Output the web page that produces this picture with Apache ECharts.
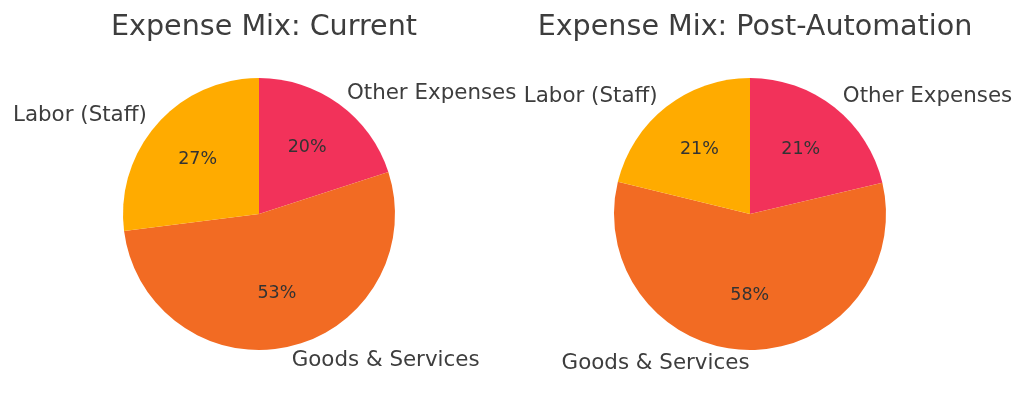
<!DOCTYPE html>
<html>
<head>
<meta charset="utf-8">
<script src="https://cdn.jsdelivr.net/npm/echarts@6/dist/echarts.min.js"></script>
<style>
  html, body { margin: 0; padding: 0; background: #fff; }
  #chart { width: 1024px; height: 397px; }
</style>
</head>
<body>
<div id="chart"></div>
<script>
  // categories in drawing order (clockwise from 12 o'clock)
  const categories = ['Other Expenses', 'Goods & Services', 'Labor (Staff)']
  const currentShares = [20, 53, 27]
  const postShares = [21.3, 57.5, 21.2]
  const titles = ['Expense Mix: Current', 'Expense Mix: Post-Automation']
  const colors = ['#F2325A', '#F26B23', '#FFAB00']

  const font = 'DejaVu Sans'
  const textColor = '#3d3d3d'
  const R = 136

  function toData(values) {
    return categories.map((name, i) => ({ name: name, value: values[i] }))
  }

  function pieSeries(values, cx) {
    return [
      {
        type: 'pie',
        center: [cx, 214],
        radius: [0, R],
        startAngle: 90,
        clockwise: true,
        avoidLabelOverlap: false,
        silent: true,
        color: colors,
        itemStyle: { borderWidth: 0 },
        label: {
          show: true,
          position: 'outside',
          fontFamily: font,
          fontSize: 21.4,
          color: textColor,
          distanceToLabelLine: 0
        },
        labelLine: { show: false, length: R * 0.1, length2: 0 },
        data: toData(values)
      },
      {
        // transparent ring only used to place the percentages inside
        type: 'pie',
        center: [cx, 214],
        radius: [0, R * 1.16],
        startAngle: 90,
        clockwise: true,
        silent: true,
        itemStyle: { color: 'transparent' },
        label: {
          show: true,
          position: 'inside',
          fontFamily: font,
          fontSize: 17.5,
          color: '#333',
          formatter: p => Math.round(p.percent) + '%'
        },
        labelLine: { show: false },
        data: toData(values)
      }
    ]
  }

  const chart = echarts.init(document.getElementById('chart'), null, { renderer: 'canvas' })
  chart.setOption({
    animation: false,
    backgroundColor: '#fff',
    title: [
      { text: titles[0], left: 259, top: 8, textAlign: 'center',
        textStyle: { fontFamily: font, fontSize: 28.6, fontWeight: 'normal', color: textColor } },
      { text: titles[1], left: 750, top: 8, textAlign: 'center',
        textStyle: { fontFamily: font, fontSize: 28.6, fontWeight: 'normal', color: textColor } }
    ],
    series: pieSeries(currentShares, 259).concat(pieSeries(postShares, 750))
  })
</script>
</body>
</html>
